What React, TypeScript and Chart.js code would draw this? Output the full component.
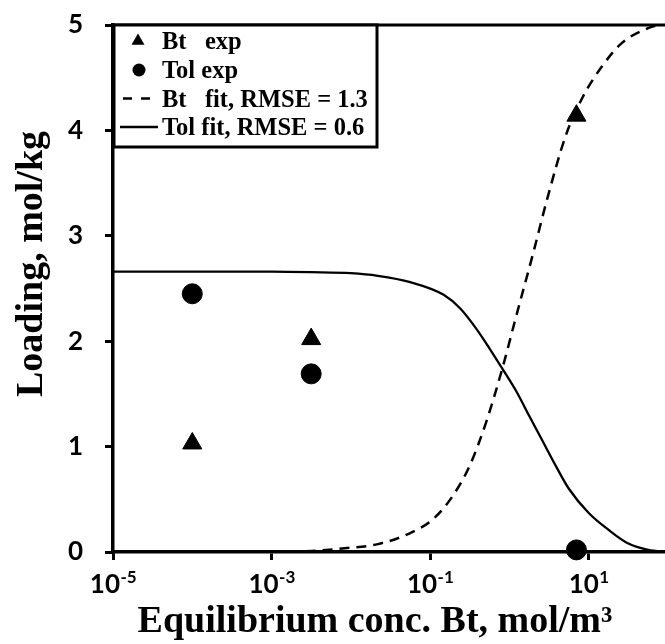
import { useEffect, useRef } from 'react';
import { Chart, registerables } from 'chart.js';

Chart.register(...registerables);

// ---- data ----
const xTickValues = [1e-5, 1e-3, 1e-1, 1e1];
const xTickExponents = ['-5', '-3', '-1', '1'];
const yTickValues = [0, 1, 2, 3, 4, 5];

const btExpConc = [1e-4, 3.16e-3, 7.0];
const btExpLoading = [1.03, 2.02, 4.14];
const tolExpConc = [1e-4, 3.16e-3, 7.0];
const tolExpLoading = [2.45, 1.69, 0.02];

const btFitConc = [1e-3, 3.16e-3, 8.3e-3, 0.0219, 0.0562, 0.112, 0.2, 0.316, 0.513, 0.813, 1.23, 2.0, 3.02, 5.13, 8.32, 14.8, 26.3, 56.2, 100];
const btFitLoading = [0.0, 0.01, 0.035, 0.075, 0.18, 0.32, 0.55, 0.82, 1.24, 1.74, 2.25, 2.84, 3.36, 3.95, 4.31, 4.61, 4.83, 4.97, 5.02];

const tolFitConc = [1e-5, 1e-4, 1e-3, 3.16e-3, 0.01, 0.0219, 0.0562, 0.148, 0.24, 0.389, 0.562, 0.813, 1.23, 1.78, 2.63, 3.89, 5.62, 10, 17.8, 31.6, 56.2, 100];
const tolFitLoading = [2.66, 2.66, 2.66, 2.655, 2.645, 2.62, 2.56, 2.44, 2.31, 2.11, 1.93, 1.74, 1.52, 1.29, 1.05, 0.81, 0.60, 0.37, 0.21, 0.08, 0.02, 0.0];

const legendLabels = ['Bt   exp', 'Tol exp', 'Bt   fit, RMSE = 1.3', 'Tol fit, RMSE = 0.6'];
const xTitle = 'Equilibrium conc. Bt, mol/m\u00B3';
const yTitle = 'Loading, mol/kg';

const toPoints = (xs: number[], ys: number[]) => xs.map((x, i) => ({ x, y: ys[i] }));

const SERIF = '"Liberation Serif", "Times New Roman", serif';
const SANS = 'Lato, "Open Sans", sans-serif';

const framePlugin = {
  id: 'frameAndLabels',
  afterDraw(chart: any) {
    const ctx = chart.ctx as CanvasRenderingContext2D;
    const { left, right, top, bottom } = chart.chartArea;
    ctx.save();
    // top border
    ctx.strokeStyle = '#000';
    ctx.lineWidth = 3;
    ctx.beginPath();
    ctx.moveTo(left - 1.5, top);
    ctx.lineTo(right, top);
    ctx.stroke();

    // x tick labels with superscript exponents
    const xs = chart.scales.x;
    xTickValues.forEach((v, i) => {
      const px = xs.getPixelForValue(v);
      const base = '10';
      const exp = xTickExponents[i];
      ctx.font = `bold 26px ${SANS}`;
      const wb = ctx.measureText(base).width;
      ctx.font = `bold 17px ${SANS}`;
      const we = ctx.measureText(exp).width;
      const start = px - (wb + we) / 2;
      ctx.fillStyle = '#000';
      ctx.textBaseline = 'alphabetic';
      ctx.textAlign = 'left';
      ctx.font = `bold 26px ${SANS}`;
      ctx.fillText(base, start, bottom + 41);
      ctx.font = `bold 17px ${SANS}`;
      ctx.fillText(exp, start + wb + 0.5, bottom + 31);
    });

    // axis titles
    ctx.fillStyle = '#000';
    ctx.font = `bold 38px ${SERIF}`;
    ctx.textAlign = 'center';
    ctx.textBaseline = 'alphabetic';
    ctx.fillText(xTitle, 375, bottom + 80);
    ctx.save();
    ctx.translate(42, 264);
    ctx.rotate(-Math.PI / 2);
    ctx.fillText(yTitle, 0, 0);
    ctx.restore();

    // legend box
    const bx = left + 1;
    const by = top;
    const bw = 263;
    const bh = 122;
    ctx.fillStyle = '#fff';
    ctx.fillRect(bx, by, bw, bh);
    ctx.lineWidth = 3;
    ctx.strokeStyle = '#000';
    ctx.strokeRect(bx, by, bw, bh);

    const baselines = [by + 24, by + 53, by + 81.5, by + 110];
    const textX = left + 49;
    ctx.textAlign = 'left';
    ctx.textBaseline = 'alphabetic';
    legendLabels.forEach((lab, i) => {
      const yb = baselines[i];
      const cy = yb - 8;
      ctx.fillStyle = '#000';
      ctx.strokeStyle = '#000';
      if (i === 0) {
        const r = 7.5;
        const cx = left + 25;
        ctx.beginPath();
        ctx.moveTo(cx, cy - r);
        ctx.lineTo(cx + r * 0.866, cy + r * 0.5);
        ctx.lineTo(cx - r * 0.866, cy + r * 0.5);
        ctx.closePath();
        ctx.fill();
      } else if (i === 1) {
        ctx.beginPath();
        ctx.arc(left + 26, cy, 6.5, 0, Math.PI * 2);
        ctx.fill();
      } else if (i === 2) {
        ctx.lineWidth = 2.5;
        ctx.setLineDash([9, 9]);
        ctx.beginPath();
        ctx.moveTo(left + 10, cy);
        ctx.lineTo(left + 40, cy);
        ctx.stroke();
        ctx.setLineDash([]);
      } else {
        ctx.lineWidth = 2.5;
        ctx.beginPath();
        ctx.moveTo(left + 7, cy);
        ctx.lineTo(left + 45, cy);
        ctx.stroke();
      }
      ctx.font = `bold 24.5px ${SERIF}`;
      ctx.fillText(lab, textX, yb);
    });
    ctx.restore();
  },
};

export default function App() {
  const canvasRef = useRef<HTMLCanvasElement | null>(null);

  useEffect(() => {
    const canvas = canvasRef.current;
    if (!canvas) return;
    const chart = new Chart(canvas, {
      type: 'line',
      data: {
        datasets: [
          {
            label: legendLabels[0],
            data: toPoints(btExpConc, btExpLoading),
            showLine: false,
            pointStyle: 'triangle',
            pointRadius: 11,
            pointBackgroundColor: '#000',
            pointBorderColor: '#000',
            pointBorderWidth: 1,
            borderColor: '#000',
            backgroundColor: '#000',
            clip: false,
          },
          {
            label: legendLabels[1],
            data: toPoints(tolExpConc, tolExpLoading),
            showLine: false,
            pointStyle: 'circle',
            pointRadius: 10,
            pointBackgroundColor: '#000',
            pointBorderColor: '#000',
            pointBorderWidth: 1,
            borderColor: '#000',
            backgroundColor: '#000',
            clip: false,
          },
          {
            label: legendLabels[2],
            data: toPoints(btFitConc, btFitLoading),
            borderColor: '#000',
            borderWidth: 2.5,
            borderDash: [10, 7],
            pointRadius: 0,
            cubicInterpolationMode: 'monotone',
            fill: false,
          },
          {
            label: legendLabels[3],
            data: toPoints(tolFitConc, tolFitLoading),
            borderColor: '#000',
            borderWidth: 2.3,
            pointRadius: 0,
            cubicInterpolationMode: 'monotone',
            fill: false,
          },
        ],
      },
      options: {
        responsive: false,
        animation: false,
        devicePixelRatio: 1,
        layout: { padding: { top: 25, right: 7, left: 0, bottom: 0 } },
        plugins: {
          legend: { display: false },
          tooltip: { enabled: false },
        },
        scales: {
          x: {
            type: 'logarithmic',
            min: 1e-5,
            max: 100,
            afterBuildTicks: (scale: any) => {
              scale.ticks = xTickValues.map((v) => ({ value: v }));
            },
            afterFit: (scale: any) => {
              scale.height = 92;
              scale.paddingLeft = 0;
              scale.paddingRight = 0;
            },
            ticks: { display: false },
            grid: {
              display: true,
              drawOnChartArea: false,
              drawTicks: true,
              tickLength: 8,
              lineWidth: 3,
              color: '#000',
            },
            border: { display: true, width: 3.5, color: '#000' },
            title: { display: false },
          },
          y: {
            type: 'linear',
            min: 0,
            max: 5,
            afterBuildTicks: (scale: any) => {
              scale.ticks = yTickValues.map((v) => ({ value: v }));
            },
            afterFit: (scale: any) => {
              scale.width = 113;
              scale.paddingTop = 0;
              scale.paddingBottom = 0;
            },
            ticks: {
              color: '#000',
              font: { family: SANS, size: 26, weight: 'bold' },
              padding: 22,
            },
            grid: {
              display: true,
              drawOnChartArea: false,
              drawTicks: true,
              tickLength: 8,
              lineWidth: 3,
              color: '#000',
            },
            border: { display: true, width: 3.5, color: '#000' },
            title: { display: false },
          },
        },
      },
      plugins: [framePlugin],
    } as any);
    return () => chart.destroy();
  }, []);

  return (
    <div style={{ position: 'fixed', left: 0, top: 0, width: 680, height: 644, background: '#fff' }}>
      <canvas ref={canvasRef} width={680} height={644} style={{ width: 680, height: 644, display: 'block' }} />
    </div>
  );
}
